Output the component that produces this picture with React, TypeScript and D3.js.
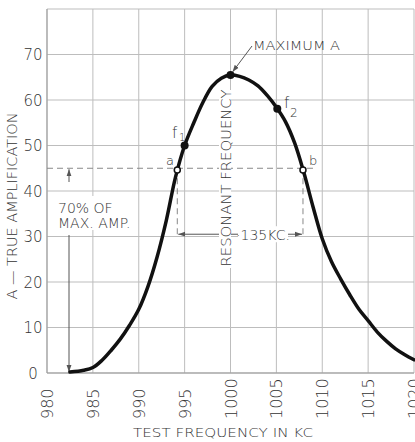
import React from "react";
import * as d3 from "d3";

const freqs = [982.5, 984, 985, 986, 987, 988, 989, 990, 991, 992, 993, 994, 995, 996, 997, 998, 999, 1000, 1001, 1002, 1003, 1004, 1005, 1006, 1007, 1008, 1009, 1010, 1011, 1012, 1013, 1014, 1015, 1016, 1017, 1018, 1019, 1020];
const amps = [0.2, 0.6, 1.2, 2.8, 5, 7.5, 10.5, 14, 19, 25.5, 33.5, 43, 50, 55, 59.5, 63, 64.8, 65.5, 65.2, 64.4, 63.1, 61, 58.4, 55.2, 50.5, 44, 36.5, 29.5, 24.5, 20.7, 17.2, 14, 11.5, 9, 7, 5.3, 4, 2.9];
const xTicks = [980, 985, 990, 995, 1000, 1005, 1010, 1015, 1020];
const yTicks = [0, 10, 20, 30, 40, 50, 60, 70];
const yGrid = [0, 10, 20, 30, 40, 50, 60, 70, 80];
const solidPoints = [
  { f: 995, a: 50 },
  { f: 1000, a: 65.5 },
  { f: 1005.1, a: 58.1 },
];
const hollowPoints = [
  { f: 994.2, a: 44.6, label: "a" },
  { f: 1007.9, a: 44.6, label: "b" },
];
const halfPowerLevel = 45;
const dimLevel = 30.5;

const W = 415;
const H = 442;
const FONT = "'DejaVu Sans', sans-serif";
const INK = "#333";

export default function App() {
  const x = d3.scaleLinear().domain([980, 1020]).range([47, 414]);
  const y = d3.scaleLinear().domain([0, 80]).range([373, 9]);
  const data = freqs.map((f, i) => ({ f, a: amps[i] }));
  const line = d3
    .line<{ f: number; a: number }>()
    .x((d) => x(d.f))
    .y((d) => y(d.a))
    .curve(d3.curveCatmullRom.alpha(0.5));

  const xa = x(hollowPoints[0].f);
  const xb = x(hollowPoints[1].f);
  const yh = y(halfPowerLevel);
  const yd = y(dimLevel);
  const arrowX = 69;

  return (
    <svg
      width={W}
      height={H}
      style={{ position: "absolute", left: 0, top: 0, background: "#fff" }}
    >
      <defs>
        <marker id="arr" viewBox="0 0 10 10" refX="10" refY="5" markerWidth="7" markerHeight="7" orient="auto-start-reverse">
          <path d="M0,1.5 L10,5 L0,8.5 Z" fill="#555" />
        </marker>
      </defs>
      {/* grid */}
      <g stroke="#bdbdbd" strokeWidth={1}>
        {yGrid.map((v) => (
          <line key={"h" + v} x1={x(980)} x2={x(1020)} y1={y(v)} y2={y(v)} />
        ))}
        {xTicks.map((v) => (
          <line key={"v" + v} x1={x(v)} x2={x(v)} y1={y(0)} y2={y(80)} />
        ))}
      </g>
      <line x1={x(980)} x2={x(980)} y1={y(0)} y2={y(80)} stroke="#999" />
      <line x1={x(980)} x2={x(1020)} y1={y(0)} y2={y(0)} stroke="#999" />

      {/* y tick labels */}
      <g fontFamily={FONT} fontSize={15} fontWeight={200} fill={INK} textAnchor="middle">
        {yTicks.map((v) => (
          <text key={v} x={33} y={y(v) + 5.5}>
            {v}
          </text>
        ))}
      </g>
      {/* x tick labels */}
      <g fontFamily={FONT} fontSize={16} fontWeight={200} fill={INK}>
        {xTicks.map((v) => (
          <text key={v} transform={`translate(${x(v) + 6},419) rotate(-90)`}>
            {v}
          </text>
        ))}
      </g>
      {/* axis titles */}
      <text
        fontFamily={FONT}
        fontSize={14}
        fontWeight={200}
        fill={INK}
        textAnchor="middle"
        transform={`translate(17,206) rotate(-90)`}
        textLength={187}
        lengthAdjust="spacingAndGlyphs"
      >
        A — TRUE AMPLIFICATION
      </text>
      <text
        fontFamily={FONT}
        fontSize={13}
        fontWeight={200}
        fill={INK}
        textAnchor="middle"
        x={223}
        y={437}
        textLength={180}
        lengthAdjust="spacingAndGlyphs"
      >
        TEST FREQUENCY IN KC
      </text>

      {/* half-power dashed lines */}
      <g stroke="#888" strokeWidth={1} strokeDasharray="6,4">
        <line x1={x(980)} x2={xb + 10} y1={yh} y2={yh} />
        <line x1={xa} x2={xa} y1={yh} y2={yd + 2} />
        <line x1={xb} x2={xb} y1={yh} y2={yd + 2} />
      </g>
      {/* dimension line 13.5 kc */}
      <g stroke="#555" strokeWidth={1}>
        <line x1={240} x2={xa + 1} y1={yd} y2={yd} markerEnd="url(#arr)" />
        <line x1={286} x2={xb - 1} y1={yd} y2={yd} markerEnd="url(#arr)" />
      </g>
      <rect x={238} y={yd - 8} width={50} height={16} fill="#fff" />
      <text fontFamily={FONT} fontSize={14} fontWeight={200} fill={INK} x={263} y={yd + 5.5} textAnchor="middle">
        ·135KC.
      </text>

      {/* 70% arrow */}
      <g stroke="#555" strokeWidth={1}>
        <line x1={arrowX} x2={arrowX} y1={182} y2={yh + 1} markerEnd="url(#arr)" />
        <line x1={arrowX} x2={arrowX} y1={235} y2={y(0) - 1} markerEnd="url(#arr)" />
      </g>
      <rect x={56} y={196} width={82} height={34} fill="#fff" />
      <g fontFamily={FONT} fontSize={14} fontWeight={200} fill={INK}>
        <text x={58} y={213}>70% OF</text>
        <text x={58} y={228}>MAX. AMP.</text>
      </g>

      {/* resonant frequency label */}
      <rect x={219} y={90} width={12} height={178} fill="#fff" />
      <text
        fontFamily={FONT}
        fontSize={14}
        fontWeight={200}
        fill={INK}
        textAnchor="middle"
        transform={`translate(231,178) rotate(-90)`}
        textLength={177}
        lengthAdjust="spacingAndGlyphs"
      >
        RESONANT FREQUENCY
      </text>

      {/* curve */}
      <path d={line(data) || ""} fill="none" stroke="#111" strokeWidth={3.5} strokeLinecap="round" />
      {solidPoints.map((p, i) => (
        <circle key={i} cx={x(p.f)} cy={y(p.a)} r={4} fill="#111" />
      ))}
      {hollowPoints.map((p, i) => (
        <circle key={i} cx={x(p.f)} cy={y(p.a)} r={3} fill="#fff" stroke="#111" strokeWidth={1.5} />
      ))}

      {/* maximum label */}
      <line x1={252} x2={x(1000) + 2} y1={46} y2={y(65.5) - 3} stroke="#555" strokeWidth={1} markerEnd="url(#arr)" />
      <text fontFamily={FONT} fontSize={12} fontWeight={200} fill={INK} x={253} y={50} textLength={87} lengthAdjust="spacingAndGlyphs">
        MAXIMUM A
      </text>

      {/* point labels */}
      <g fontFamily={FONT} fontWeight={200} fill={INK}>
        <text x={172} y={138} fontSize={15}>f</text>
        <text x={179} y={141} fontSize={10}>1</text>
        <text x={284} y={108} fontSize={15}>f</text>
        <text x={290} y={117} fontSize={12}>2</text>
        <text x={166} y={165} fontSize={13}>a</text>
        <text x={309} y={165} fontSize={13}>b</text>
      </g>
    </svg>
  );
}
